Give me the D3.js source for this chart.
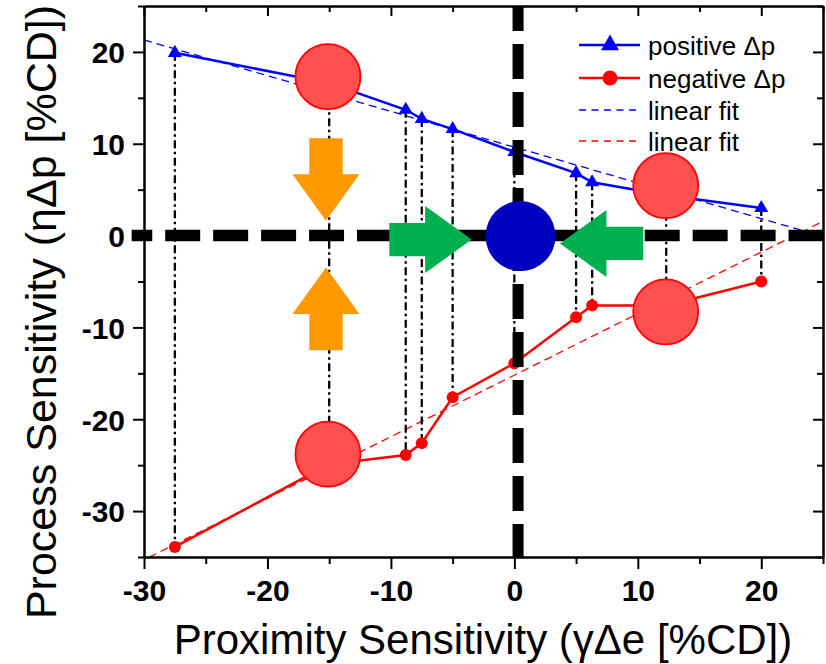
<!DOCTYPE html>
<html lang="en">
<head>
<meta charset="UTF-8">
<title>Process vs Proximity Sensitivity</title>
<script src="https://cdnjs.cloudflare.com/ajax/libs/d3/7.8.5/d3.min.js"></script>
<style>
body { margin: 0; background: #fff; }
svg { display: block; font-family: 'Liberation Sans', Arial, sans-serif; }
.tick-label { font-weight: bold; font-size: 30px; fill: #000; }
.legend-text { font-size: 26px; fill: #000; }
</style>
</head>
<body>
<svg width="826" height="664"></svg>
<script>
// data
const xVals   = [-27.5, -15, -8.8, -7.5, -5, 0, 5, 6.3, 12.3, 20];
const posVals = [19.9, 16.6, 13.7, 12.7, 11.6, 9.1, 6.8, 5.8, 4.4, 3.0];
const negVals = [-33.9, -24.9, -23.9, -22.6, -17.6, -13.9, -8.9, -7.6, -7.6, -5.0];

// linear fits: [slope, intercept]
const posFit = [-0.389, 9.63];
const negFit = [0.67, -15.2];

// axis ticks
const xMajor = [-30, -20, -10, 0, 10, 20];
const xMinor = [-25, -15, -5, 5, 15, 25];
const yMajor = [-30, -20, -10, 0, 10, 20];
const yMinor = [-35, -25, -15, -5, 5, 15, 25];

// annotation circles (data coords)
const bubbleX = [-15.1, -15.1, 12.26, 12.26];
const bubbleY = [17.3, -23.8, 5.45, -8.3];
const centerDot = [0.5, -0.05];

// arrows: [x tail, y tail, x tip, y tip]
const orangeArrows = [[-15.26, 10.6, -15.26, 1.61], [-15.26, -12.49, -15.26, -3.47]];
const greenArrows  = [[-10.13, -0.44, -3.46, -0.44], [10.44, -0.85, 3.69, -0.85]];

const legendLabels = ["positive \u0394p", "negative \u0394p", "linear fit", "linear fit"];

const svg = d3.select("svg");
const x = d3.scaleLinear().domain([-30, 25]).range([144, 823]);
const y = d3.scaleLinear().domain([-35, 25]).range([557, 6]);

const pts = xVals.map((v, i) => ({x: v, p: posVals[i], n: negVals[i]}));

// fit lines
svg.append("clipPath").attr("id", "plot")
  .append("rect").attr("x", 144).attr("y", 6).attr("width", 679).attr("height", 551);

const fitLine = (f, x0, x1) => [[x0, f[0] * x0 + f[1]], [x1, f[0] * x1 + f[1]]];
const line = d3.line().x(d => x(d[0])).y(d => y(d[1]));

svg.append("path").attr("d", line(fitLine(posFit, -30, 25)))
  .attr("clip-path", "url(#plot)")
  .attr("stroke", "#0000ff").attr("stroke-width", 1.3).attr("stroke-dasharray", "8,5").attr("fill", "none");
svg.append("path").attr("d", line(fitLine(negFit, -29.6, 25)))
  .attr("clip-path", "url(#plot)")
  .attr("stroke", "#ff0000").attr("stroke-width", 1.3).attr("stroke-dasharray", "8,5").attr("fill", "none");

// dash-dot drop lines
svg.append("g").selectAll("line").data(pts).join("line")
  .attr("x1", d => x(d.x)).attr("x2", d => x(d.x))
  .attr("y1", d => y(d.p)).attr("y2", d => y(d.n))
  .attr("stroke", "#000").attr("stroke-width", 2.3)
  .attr("stroke-dasharray", "8,3.5,2.5,3.5");

// series lines
svg.append("path").datum(pts)
  .attr("d", d3.line().x(d => x(d.x)).y(d => y(d.p)))
  .attr("fill", "none").attr("stroke", "#0000ff").attr("stroke-width", 2.5);
svg.append("path").datum(pts)
  .attr("d", d3.line().x(d => x(d.x)).y(d => y(d.n)))
  .attr("fill", "none").attr("stroke", "#ff0000").attr("stroke-width", 2.5);

svg.append("g").selectAll("path").data(pts).join("path")
  .attr("d", d3.symbol(d3.symbolTriangle, 85))
  .attr("transform", d => `translate(${x(d.x)},${y(d.p)})`)
  .attr("fill", "#0000ff");
svg.append("g").selectAll("circle").data(pts).join("circle")
  .attr("cx", d => x(d.x)).attr("cy", d => y(d.n)).attr("r", 6)
  .attr("fill", "#ff0000");

// thick zero lines
svg.append("line")
  .attr("x1", x(-31)).attr("x2", x(25)).attr("y1", y(0)).attr("y2", y(0))
  .attr("stroke", "#000").attr("stroke-width", 11.5)
  .attr("stroke-dasharray", "35,12.95").attr("stroke-dashoffset", 14.4);
svg.append("line")
  .attr("x1", x(0.3)).attr("x2", x(0.3)).attr("y1", y(25)).attr("y2", y(-35))
  .attr("stroke", "#000").attr("stroke-width", 11)
  .attr("stroke-dasharray", "35,13").attr("stroke-dashoffset", 10);

// arrows
function arrowPath(a) {
  const x0 = x(a[0]), y0 = y(a[1]), x1 = x(a[2]), y1 = y(a[3]);
  const len = Math.hypot(x1 - x0, y1 - y0);
  const ux = (x1 - x0) / len, uy = (y1 - y0) / len;
  const nx = -uy, ny = ux;
  const hw = 16.7, hh = 33.5, hl = 46.5;
  const bx = x1 - ux * hl, by = y1 - uy * hl;
  const p = [
    [x0 + nx * hw, y0 + ny * hw], [bx + nx * hw, by + ny * hw], [bx + nx * hh, by + ny * hh],
    [x1, y1],
    [bx - nx * hh, by - ny * hh], [bx - nx * hw, by - ny * hw], [x0 - nx * hw, y0 - ny * hw]
  ];
  return "M" + p.map(q => q.join(",")).join("L") + "Z";
}
svg.append("g").selectAll("path").data(orangeArrows).join("path")
  .attr("d", arrowPath).attr("fill", "#ff9900");
svg.append("g").selectAll("path").data(greenArrows).join("path")
  .attr("d", arrowPath).attr("fill", "#00b050");

// bubbles
svg.append("g").selectAll("circle").data(bubbleX).join("circle")
  .attr("cx", d => x(d)).attr("cy", (d, i) => y(bubbleY[i])).attr("r", 32.5)
  .attr("fill", "#ff5050").attr("stroke", "#ff0000").attr("stroke-width", 1.8);
svg.append("circle")
  .attr("cx", x(centerDot[0])).attr("cy", y(centerDot[1])).attr("r", 35)
  .attr("fill", "#0000c0");

// axes
const fmt = d => String(d);
const ax = svg.append("g");
const xLab = ax.append("g").attr("transform", "translate(0,557)")
  .call(d3.axisBottom(x).tickValues(xMajor).tickSize(12).tickSizeOuter(0).tickFormat(fmt));
ax.append("g").attr("transform", "translate(0,557)")
  .call(d3.axisBottom(x).tickValues(xMinor).tickSize(7).tickSizeOuter(0).tickFormat(""));
ax.append("g").attr("transform", "translate(0,6)")
  .call(d3.axisBottom(x).tickValues(xMajor).tickSize(10).tickSizeOuter(0).tickFormat(""));
ax.append("g").attr("transform", "translate(0,6)")
  .call(d3.axisBottom(x).tickValues(xMinor).tickSize(6).tickSizeOuter(0).tickFormat(""));
const yLab = ax.append("g").attr("transform", "translate(144,0)")
  .call(d3.axisLeft(y).tickValues(yMajor).tickSize(11).tickSizeOuter(0).tickFormat(fmt));
ax.append("g").attr("transform", "translate(144,0)")
  .call(d3.axisLeft(y).tickValues(yMinor).tickSize(6).tickSizeOuter(0).tickFormat(""));
ax.append("g").attr("transform", "translate(823,0)")
  .call(d3.axisLeft(y).tickValues(yMajor).tickSize(10).tickSizeOuter(0).tickFormat(""));
ax.append("g").attr("transform", "translate(823,0)")
  .call(d3.axisLeft(y).tickValues(yMinor).tickSize(6).tickSizeOuter(0).tickFormat(""));
ax.selectAll(".domain").attr("stroke", "#000").attr("stroke-width", 2);
ax.selectAll(".tick line").attr("stroke", "#000").attr("stroke-width", 2);
ax.selectAll(".tick text").attr("class", "tick-label").attr("font-family", null).attr("font-size", null);
xLab.selectAll(".tick text").attr("y", 23).attr("dy", "0.71em");
yLab.selectAll(".tick text").attr("x", -19).attr("dy", "0.36em");

// axis titles
svg.append("text").attr("x", 483).attr("y", 654).attr("text-anchor", "middle")
  .attr("font-size", 42).text("Proximity Sensitivity (\u03b3\u0394e [%CD])");
svg.append("text").attr("transform", "translate(56,312) rotate(-90)").attr("text-anchor", "middle")
  .attr("font-size", 43).text("Process Sensitivity (\u03b7\u0394p [%CD])");

// legend
const lg = svg.append("g");
const rowY = [45, 78, 110, 141];
const legendStyles = [
  {c: "#0000ff", w: 2.5, dash: null, m: "tri"},
  {c: "#ff0000", w: 2.5, dash: null, m: "dot"},
  {c: "#0000ff", w: 1.3, dash: "7,5.5", m: null},
  {c: "#ff0000", w: 1.3, dash: "7,5.5", m: null}
];
legendLabels.forEach((t, i) => {
  const s = legendStyles[i];
  lg.append("line").attr("x1", 579).attr("x2", 640).attr("y1", rowY[i]).attr("y2", rowY[i])
    .attr("stroke", s.c).attr("stroke-width", s.w).attr("stroke-dasharray", s.dash);
  if (s.m === "tri") lg.append("path").attr("d", d3.symbol(d3.symbolTriangle, 140))
    .attr("transform", `translate(610,${rowY[i]})`).attr("fill", s.c);
  if (s.m === "dot") lg.append("circle").attr("cx", 610).attr("cy", rowY[i]).attr("r", 7.5).attr("fill", s.c);
  lg.append("text").attr("class", "legend-text").attr("x", 648).attr("y", rowY[i] + 10).text(t);
});
</script>
</body>
</html>
